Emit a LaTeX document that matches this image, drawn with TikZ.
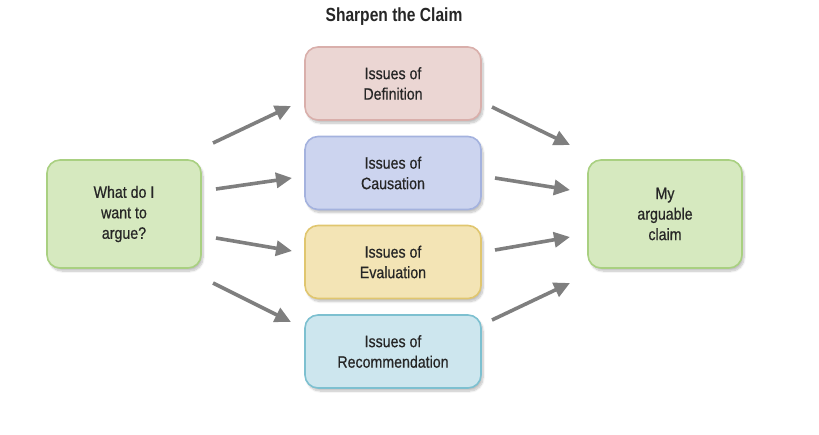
\documentclass[tikz,border=0pt]{standalone}
\usepackage{fontspec}
\setmainfont{Liberation Sans}[FakeStretch=0.86, FakeBold=0.6]
\newfontfamily\titlefont{Liberation Sans}[FakeStretch=0.82]
\usetikzlibrary{arrows.meta,shadows.blur}
\definecolor{pinkF}{HTML}{EBD6D3}\definecolor{pinkD}{HTML}{D9AFAB}
\definecolor{blueF}{HTML}{CCD4EF}\definecolor{blueD}{HTML}{A4B2DE}
\definecolor{yelF}{HTML}{F3E4B5}\definecolor{yelD}{HTML}{E0C66F}
\definecolor{cyanF}{HTML}{CDE6EE}\definecolor{cyanD}{HTML}{7DC0D0}
\definecolor{grnF}{HTML}{D6E9BF}\definecolor{grnD}{HTML}{A9D081}
\definecolor{arr}{HTML}{7F7F7F}
\definecolor{txt}{HTML}{262626}
\tikzset{
  box/.style={draw, line width=1.6pt, rounded corners=13pt, align=center,
    font=\fontsize{16.5}{20.5}\selectfont, text=txt, inner sep=0pt,
    blur shadow={shadow xshift=2pt, shadow yshift=-3pt, shadow blur steps=8, shadow opacity=25}},
  mid/.style={box, minimum width=176pt, minimum height=73pt},
  side/.style={box, minimum width=154pt, minimum height=108pt},
  arw/.style={draw=arr, line width=3.6pt, -{Triangle[length=16pt, width=15pt]}, shorten >=0pt}
}
\begin{document}
\begin{tikzpicture}[x=1pt,y=-1pt]
\useasboundingbox (0,0) rectangle (819,434);
\node[font=\titlefont\bfseries\fontsize{19}{20}\selectfont, text=txt] (title) at (394,17) {Sharpen the Claim};
\node[side, fill=grnF, draw=grnD] (want) at (124,214) {What do I\\want to\\argue?};
\node[mid, fill=pinkF, draw=pinkD] (def) at (393,83.5) {Issues of\\Definition};
\node[mid, fill=blueF, draw=blueD] (cau) at (393,173) {Issues of\\Causation};
\node[mid, fill=yelF, draw=yelD] (eva) at (393,262) {Issues of\\Evaluation};
\node[mid, fill=cyanF, draw=cyanD] (rec) at (393,351.5) {Issues of\\Recommendation};
\node[side, fill=grnF, draw=grnD] (claim) at (665,214) {My\\arguable\\claim};
% left arrows
\coordinate (l1s) at (213,143); \coordinate (l1e) at (291,106);
\coordinate (l2s) at (216,189); \coordinate (l2e) at (292,178);
\coordinate (l3s) at (216,238); \coordinate (l3e) at (292,251);
\coordinate (l4s) at (213,283); \coordinate (l4e) at (291,322);
\draw[arw] (l1s) -- (l1e);
\draw[arw] (l2s) -- (l2e);
\draw[arw] (l3s) -- (l3e);
\draw[arw] (l4s) -- (l4e);
% right arrows
\coordinate (r1s) at (492,107); \coordinate (r1e) at (570,145);
\coordinate (r2s) at (495,178); \coordinate (r2e) at (570,190);
\coordinate (r3s) at (495,250); \coordinate (r3e) at (570,237);
\coordinate (r4s) at (492,320); \coordinate (r4e) at (570,283);
\draw[arw] (r1s) -- (r1e);
\draw[arw] (r2s) -- (r2e);
\draw[arw] (r3s) -- (r3e);
\draw[arw] (r4s) -- (r4e);
\end{tikzpicture}
\end{document}
